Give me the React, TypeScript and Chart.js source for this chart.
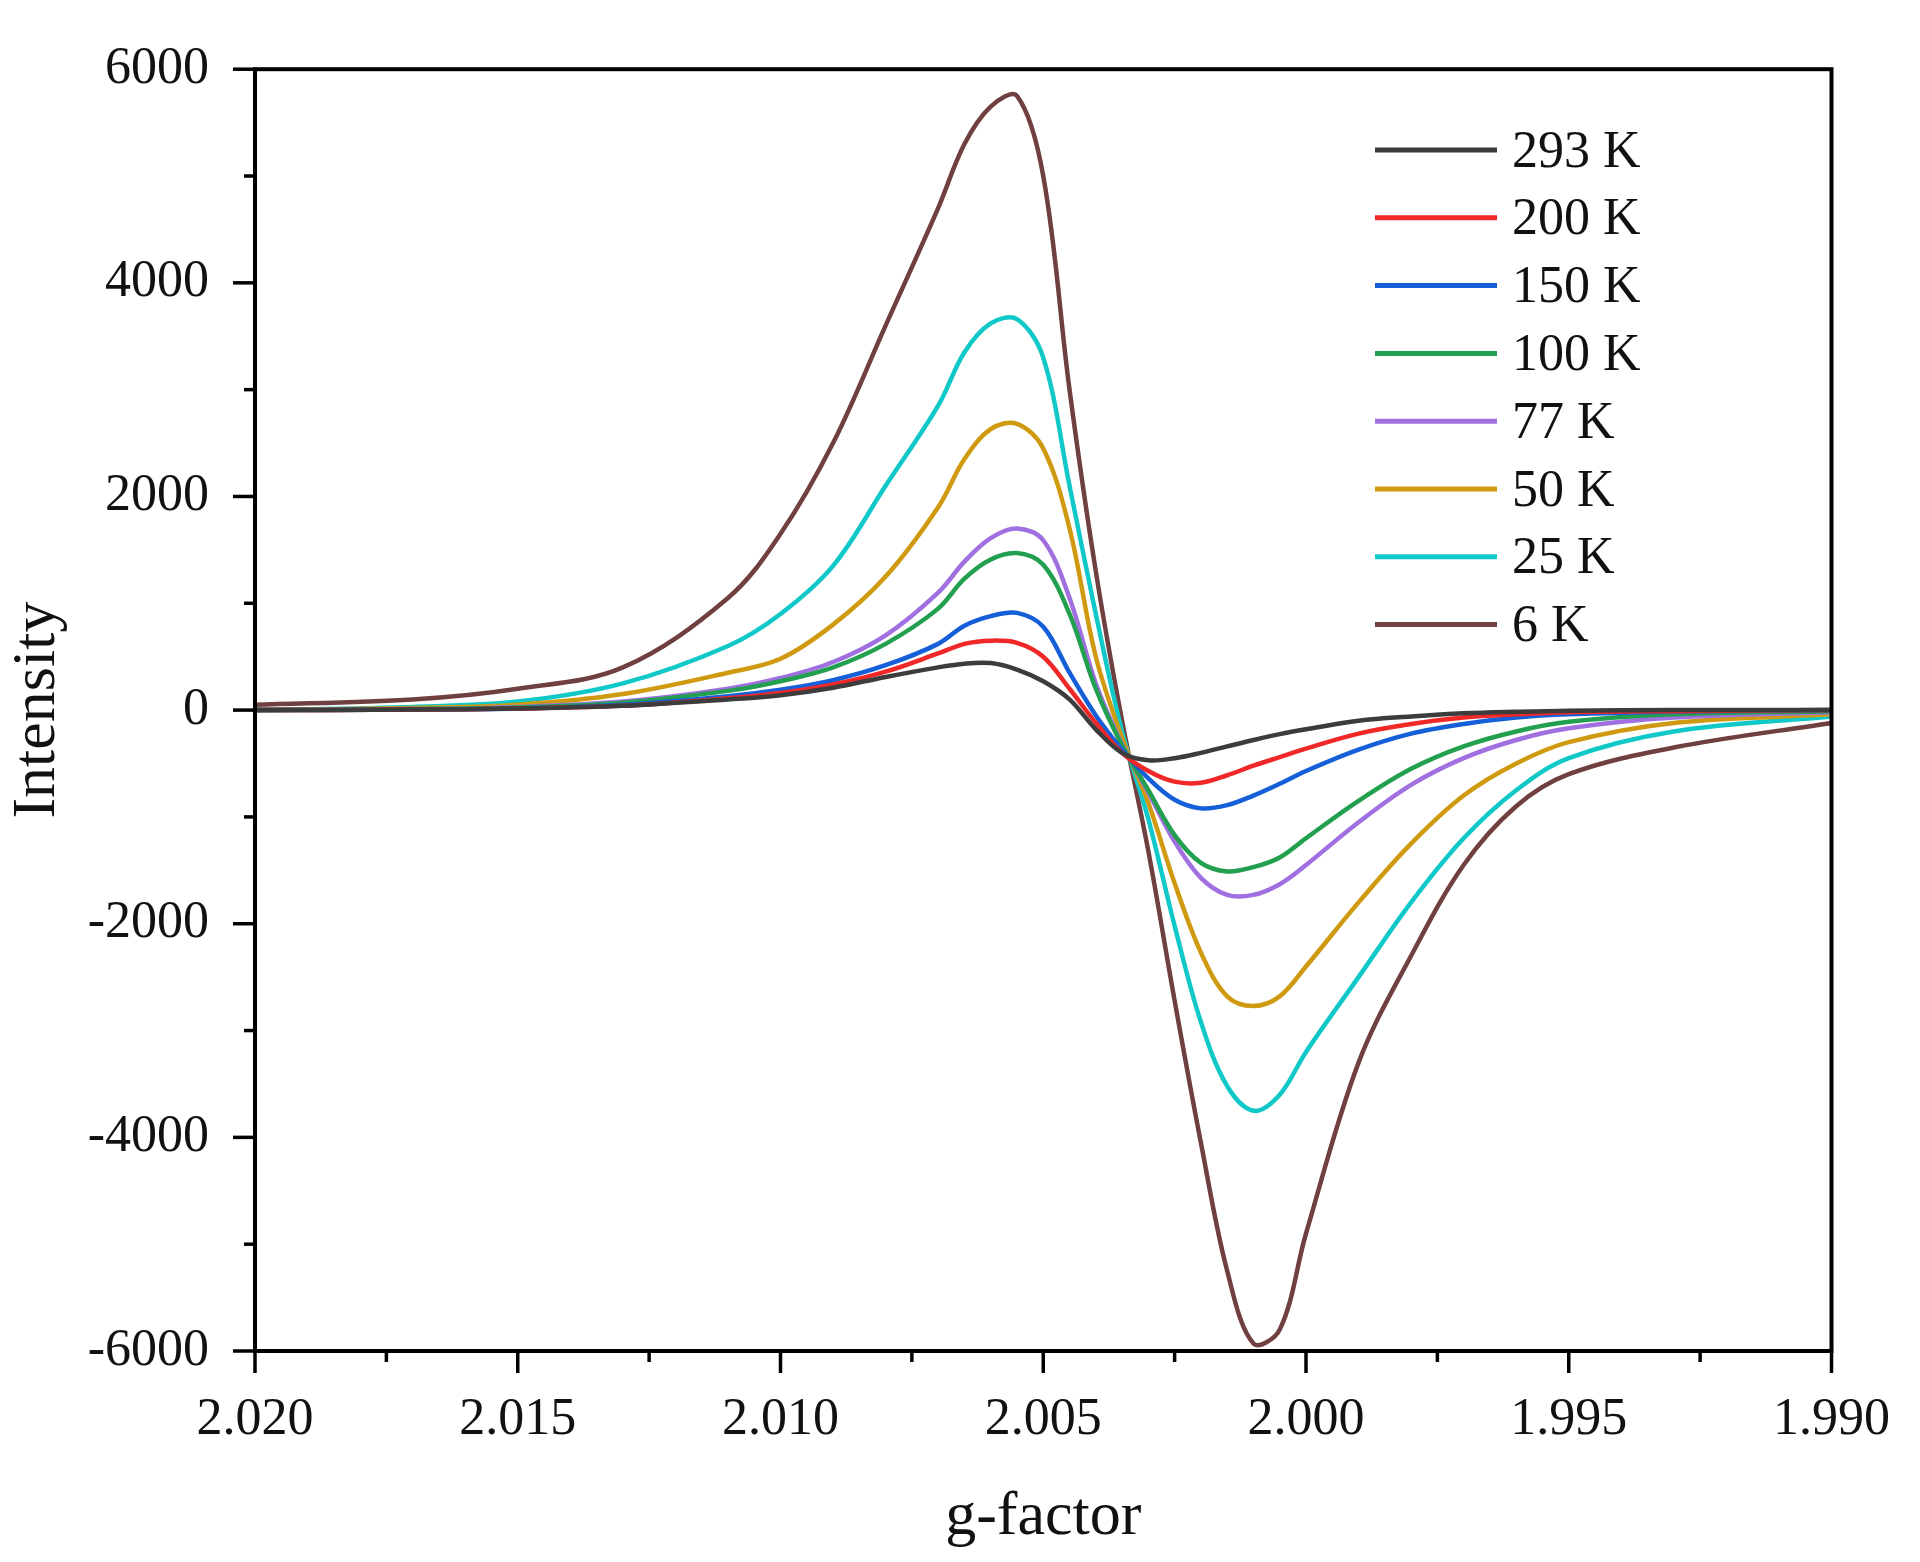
import React, { useEffect, useRef } from "react";
import { Chart, registerables } from "chart.js";
Chart.register(...registerables);

const gValues = [2.020, 2.017, 2.015, 2.013, 2.011, 2.010, 2.009, 2.008, 2.007, 2.0065, 2.006, 2.0055, 2.005, 2.0045, 2.004, 2.0035, 2.003, 2.0025, 2.002, 2.0015, 2.001, 2.0005, 2.000, 1.999, 1.998, 1.997, 1.996, 1.995, 1.993, 1.990];
const k293 = [0, 5, 15, 40, 100, 140, 210, 310, 400, 435, 440, 380, 270, 100, -180, -400, -470, -450, -400, -340, -280, -225, -180, -100, -60, -30, -15, -5, 0, 0];
const k200 = [0, 5, 15, 40, 110, 160, 240, 360, 530, 620, 650, 630, 500, 200, -120, -400, -570, -670, -680, -610, -520, -440, -360, -220, -130, -70, -40, -20, -10, 0];
const k150 = [0, 5, 15, 50, 130, 190, 280, 420, 620, 790, 880, 910, 780, 350, -50, -370, -640, -840, -920, -890, -800, -690, -570, -370, -220, -130, -70, -40, -15, 0];
const k100 = [0, 10, 25, 70, 180, 270, 400, 620, 950, 1230, 1410, 1470, 1360, 900, 200, -330, -750, -1170, -1430, -1510, -1470, -1380, -1200, -850, -550, -340, -200, -110, -40, -10];
const k77 = [0, 10, 30, 80, 200, 300, 450, 700, 1100, 1390, 1610, 1700, 1590, 1050, 250, -320, -770, -1230, -1570, -1730, -1730, -1630, -1450, -1050, -700, -450, -280, -170, -70, -20];
const k50 = [0, 20, 50, 150, 350, 480, 800, 1250, 1900, 2350, 2630, 2680, 2450, 1700, 500, -260, -870, -1620, -2270, -2680, -2770, -2680, -2400, -1800, -1250, -800, -500, -300, -120, -40];
const k25 = [0, 30, 80, 250, 600, 900, 1350, 2100, 2850, 3350, 3620, 3660, 3300, 2100, 900, -200, -1020, -2020, -2920, -3520, -3750, -3600, -3200, -2500, -1800, -1200, -750, -450, -200, -60];
const k6 = [50, 100, 200, 400, 1050, 1650, 2500, 3600, 4700, 5300, 5650, 5750, 5000, 3000, 1300, -100, -1320, -2720, -4050, -5250, -5930, -5800, -4900, -3300, -2300, -1450, -900, -600, -350, -120];

const seriesLabels = ["293 K", "200 K", "150 K", "100 K", "77 K", "50 K", "25 K", "6 K"];
const seriesColors = ["#3c3c3c", "#f02828", "#1560d8", "#22a050", "#a070e0", "#d09a10", "#10c8c8", "#704040"];
const seriesData = [k293, k200, k150, k100, k77, k50, k25, k6];

const xTicks = [2.020, 2.015, 2.010, 2.005, 2.000, 1.995, 1.990];
const yTicks = [-6000, -4000, -2000, 0, 2000, 4000, 6000];

const FONT = "'Liberation Serif', 'Times New Roman', serif";

export default function App() {
  const ref = useRef<HTMLCanvasElement>(null);
  useEffect(() => {
    document.body.style.margin = "0";
    const overlay = {
      id: "overlay",
      afterDraw(chart: any) {
        const { ctx, chartArea: a, scales } = chart;
        const x = scales.x, y = scales.y;
        ctx.save();
        ctx.strokeStyle = "#000";
        ctx.lineWidth = 4;
        ctx.strokeRect(a.left, a.top, a.right - a.left, a.bottom - a.top);
        ctx.lineWidth = 3.5;
        for (let v = 1.990; v <= 2.0201; v += 0.0025) {
          const px = x.getPixelForValue(v);
          const major = Math.abs(Math.round(v * 200) - v * 200) < 0.01;
          ctx.beginPath(); ctx.moveTo(px, a.bottom); ctx.lineTo(px, a.bottom + (major ? 22 : 11)); ctx.stroke();
        }
        for (let v = -6000; v <= 6000; v += 1000) {
          const py = y.getPixelForValue(v);
          const major = v % 2000 === 0;
          ctx.beginPath(); ctx.moveTo(a.left, py); ctx.lineTo(a.left - (major ? 22 : 11), py); ctx.stroke();
        }
        ctx.fillStyle = "#111";
        ctx.font = `62px ${FONT}`;
        ctx.textAlign = "center";
        ctx.textBaseline = "middle";
        ctx.fillText("g-factor", (a.left + a.right) / 2, 1518);
        ctx.save();
        ctx.translate(38, (a.top + a.bottom) / 2);
        ctx.rotate(-Math.PI / 2);
        ctx.fillText("Intensity", 0, 0);
        ctx.restore();
        ctx.font = `52px ${FONT}`;
        ctx.textAlign = "left";
        seriesLabels.forEach((l, i) => {
          const yy = 150 + i * 67.8;
          ctx.strokeStyle = seriesColors[i];
          ctx.lineWidth = 5;
          ctx.beginPath(); ctx.moveTo(1375, yy); ctx.lineTo(1497, yy); ctx.stroke();
          ctx.fillStyle = "#111";
          ctx.fillText(l, 1512, yy + 3);
        });
        ctx.restore();
      },
    };
    const chart = new Chart(ref.current!, {
      type: "line",
      data: {
        datasets: seriesLabels.map((l, i) => ({
          label: l,
          data: gValues.map((g, j) => ({ x: g, y: seriesData[i][j] })),
          borderColor: seriesColors[i],
          borderWidth: 4.5,
          pointRadius: 0,
          tension: 0.35,
          fill: false,
        })),
      },
      options: {
        animation: false,
        responsive: false,
        layout: { padding: { top: 64, right: 82, left: 0, bottom: 0 } },
        plugins: { legend: { display: false }, tooltip: { enabled: false } },
        scales: {
          x: {
            type: "linear", reverse: true, min: 1.990, max: 2.020,
            afterBuildTicks: (s: any) => { s.ticks = xTicks.map((v) => ({ value: v })); },
            afterFit: (s: any) => { s.height = 211; },
            grid: { display: false }, border: { display: false },
            ticks: { color: "#111", font: { family: FONT, size: 52 }, padding: 30, maxRotation: 0, callback: (v: any) => Number(v).toFixed(3) },
          },
          y: {
            min: -6000, max: 6000,
            afterBuildTicks: (s: any) => { s.ticks = yTicks.map((v) => ({ value: v })); },
            afterFit: (s: any) => { s.width = 255; },
            grid: { display: false }, border: { display: false },
            ticks: { color: "#111", font: { family: FONT, size: 52 }, padding: 38, callback: (v: any) => String(v) },
          },
        },
      },
      plugins: [overlay],
    });
    return () => chart.destroy();
  }, []);
  return <canvas ref={ref} width={1920} height={1562} style={{ display: "block", width: 1920, height: 1562 }} />;
}
